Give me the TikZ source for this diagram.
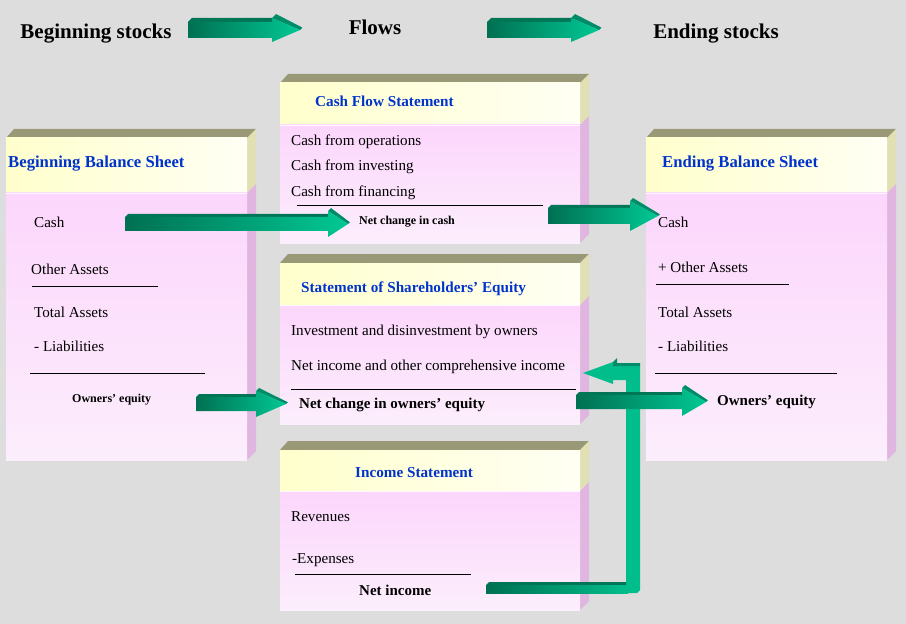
\documentclass[tikz,border=0pt]{standalone}
\usepackage{fontspec}
\setmainfont{Liberation Serif}
\definecolor{bg}{RGB}{221,221,221}
\definecolor{topf}{RGB}{153,153,119}
\definecolor{sidehead}{RGB}{224,224,180}
\definecolor{sidebody}{RGB}{224,182,224}
\definecolor{headA}{RGB}{255,255,204}
\definecolor{headB}{RGB}{255,255,244}
\definecolor{bodyA}{RGB}{252,214,252}
\definecolor{bodyB}{RGB}{252,238,252}
\definecolor{ttlblue}{RGB}{0,51,204}
\definecolor{arrdark}{RGB}{0,112,82}
\definecolor{arrlight}{RGB}{0,200,148}
\definecolor{arrtopc}{RGB}{0,118,86}
\definecolor{arrheadtop}{RGB}{0,140,104}
\definecolor{elbowc}{RGB}{0,190,140}
\tikzset{
  stocks/.style={font=\fontsize{21bp}{24bp}\selectfont\bfseries, inner sep=0pt, anchor=base},
  boxtitle/.style={font=\fontsize{15.2bp}{18bp}\selectfont\bfseries, text=ttlblue, inner sep=0pt, anchor=base west},
  bigtitle/.style={font=\fontsize{16.7bp}{20bp}\selectfont\bfseries, text=ttlblue, inner sep=0pt, anchor=base west},
  item/.style={font=\fontsize{15.1bp}{18bp}\selectfont, inner sep=0pt, anchor=base west},
  bolditem/.style={font=\fontsize{15bp}{18bp}\selectfont\bfseries, inner sep=0pt, anchor=base west},
  smallbold/.style={font=\fontsize{12bp}{14bp}\selectfont\bfseries, inner sep=0pt, anchor=base west},
  rule/.style={line width=0.9bp, draw=black},
}
% 3D box: #1 name, #2 x0, #3 x1, #4 ytop, #5 yhead, #6 ybottom
\newcommand{\tdbox}[6]{%
  \fill[topf] (#2,#4) -- ({#2+8},{#4-9}) -- ({#3+9},{#4-9}) -- (#3,#4) -- cycle;
  \fill[sidehead] (#3,#4) -- ({#3+9},{#4-9}) -- ({#3+9},{#5-9}) -- (#3,#5) -- cycle;
  \fill[sidebody] (#3,#5) -- ({#3+9},{#5-9}) -- ({#3+9},{#6-9}) -- (#3,#6) -- cycle;
  \shade[left color=headA, right color=headB] (#2,#4) rectangle (#3,#5);
  \shade[top color=bodyA, bottom color=bodyB] (#2,#5) rectangle (#3,#6);
  \draw[white!85!bodyA, line width=0.8bp] (#2,#5) -- (#3,#5);
  \coordinate (#1) at ({(#2+#3)/2},{(#4+#6)/2});
}
% 3D block arrow: #1 x0, #2 xhead, #3 xtip, #4 yc, #5 half body, #6 half head, #7 depth
\newcommand{\blockarrow}[7]{%
  \fill[arrtopc] (#1,{#4-#5}) -- ({#1+#7},{#4-#5-#7}) -- ({#2+#7},{#4-#5-#7}) -- (#2,{#4-#5}) -- cycle;
  \fill[arrheadtop] (#2,{#4-#6}) -- ({#2+#7},{#4-#6-#7}) -- ({#3+0.6*#7},{#4-0.6*#7}) -- (#3,#4) -- cycle;
  \shade[left color=arrdark, right color=arrlight] (#1,{#4-#5}) -- (#2,{#4-#5}) -- (#2,{#4-#6}) -- (#3,#4) -- (#2,{#4+#6}) -- (#2,{#4+#5}) -- (#1,{#4+#5}) -- cycle;
}
\begin{document}
\begin{tikzpicture}[x=1bp,y=-1bp]
\useasboundingbox (0,0) rectangle (906,624);
\fill[bg] (0,0) rectangle (906,624);

% headings
\node[stocks] (begstocks) at (96,39) {Beginning stocks};
\node[stocks] (flows) at (375,35) {Flows};
\node[stocks] (endstocks) at (716,39) {Ending stocks};
\blockarrow{188}{272}{300}{30}{8}{12}{4}
\blockarrow{487}{571}{599}{30}{8}{12}{4}

% boxes
\tdbox{bbs}{6}{247}{138}{193}{460}
\tdbox{cfs}{280}{580}{83}{125}{243}
\tdbox{sse}{280}{580}{263}{305}{424}
\tdbox{ins}{280}{580}{450}{491}{610}
\tdbox{ebs}{646}{887}{138}{193}{460}

% Beginning balance sheet
\node[bigtitle] (bbsT) at (8,168) {Beginning Balance Sheet};
\node[item] (bCash) at (34,228) {Cash};
\node[item] (bOA) at (31,274) {Other Assets};
\draw[rule] (32,286) -- (158,286);
\node[item] (bTA) at (34,317) {Total Assets};
\node[item] (bLia) at (34,351) {- Liabilities};
\draw[rule] (30,373) -- (205,373);
\node[smallbold] (bOE) at (72,402) {Owners’ equity};

% Cash flow statement
\node[boxtitle] (cfsT) at (315,107) {Cash Flow Statement};
\node[item] (cOp) at (291,146) {Cash from operations};
\node[item] (cInv) at (291,171) {Cash from investing};
\node[item] (cFin) at (291,197) {Cash from financing};
\draw[rule] (297,205) -- (543,205);
\node[smallbold] (cNet) at (359,225) {Net change in cash};

% Shareholders' equity
\node[boxtitle] (sseT) at (301,292) {Statement of Shareholders’ Equity};
\node[item] (sInv) at (291,335) {Investment and disinvestment by owners};
\node[item] (sNI) at (291,370) {Net income and other comprehensive income};
\draw[rule] (291,389) -- (576,389);
\node[bolditem] (sNet) at (299,408) {Net change in owners’ equity};

% Income statement
\node[boxtitle] (insT) at (355,477) {Income Statement};
\node[item] (iRev) at (291,521) {Revenues};
\node[item] (iExp) at (292,563) {-Expenses};
\draw[rule] (295,574) -- (471,574);
\node[bolditem] (iNet) at (359,595) {Net income};

% Ending balance sheet
\node[bigtitle] (ebsT) at (662,168) {Ending Balance Sheet};
\node[item] (eCash) at (658,228) {Cash};
\node[item] (eOA) at (658,272) {+ Other Assets};
\draw[rule] (656,284) -- (789,284);
\node[item] (eTA) at (658,317) {Total Assets};
\node[item] (eLia) at (658,351) {- Liabilities};
\draw[rule] (655,373) -- (837,373);
\node[bolditem] (eOE) at (717,405) {Owners’ equity};

% flow arrows
\blockarrow{125}{328}{348}{224}{7}{13}{3}
\blockarrow{548}{630}{658}{216}{8}{15}{3}
\blockarrow{196}{256}{286}{404}{7}{13}{3}

% elbow arrow from net income back to shareholders' equity
\fill[elbowc] (486,585) -- (626,585) -- (626,380) -- (613,380) -- (613,384) -- (583,373)
  -- (613,362) -- (613,366) -- (640,366) -- (640,590) -- (637,593) -- (486,593) -- cycle;
\fill[arrheadtop] (613,362) -- (617,358) -- (617,366) -- (613,366) -- cycle;
\fill[arrheadtop] (613,366) -- (617,363) -- (640,363) -- (640,366) -- cycle;
\fill[arrtopc] (486,585) -- (489,582) -- (626,582) -- (626,585) -- cycle;
\shade[left color=arrdark, right color=elbowc] (486,585) -- (628,585) -- (628,593) -- (486,593) -- cycle;

\blockarrow{576}{682}{706}{402}{7}{14}{3}
\end{tikzpicture}
\end{document}
